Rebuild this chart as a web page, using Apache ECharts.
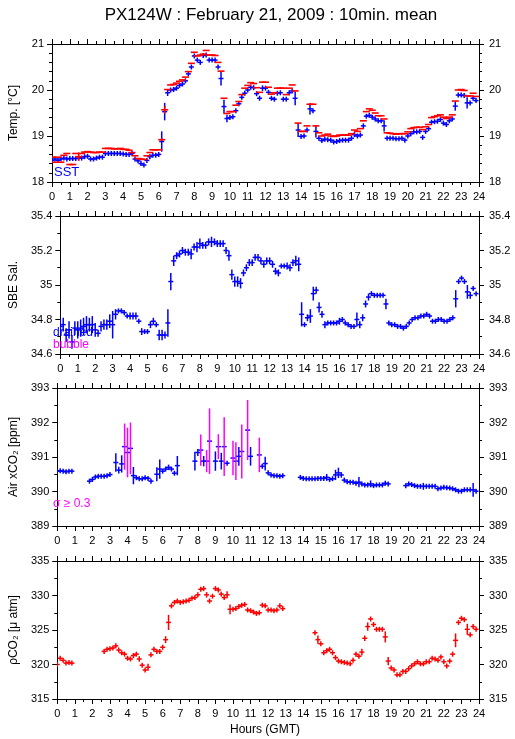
<!DOCTYPE html>
<html><head><meta charset="utf-8">
<script src="https://cdn.jsdelivr.net/npm/echarts@6/dist/echarts.min.js"></script>
<style>html,body{margin:0;padding:0;background:#fff}#c{width:515px;height:739px}</style>
</head><body><div id="c"></div>
<script>
// 10-minute slots, 0..143 (hours = slot/6)
const xTicks = [0,1,2,3,4,5,6,7,8,9,10,11,12,13,14,15,16,17,18,19,20,21,22,23,24];

const sstBlue = [18.47,18.50,18.47,18.50,18.52,18.50,18.51,18.51,18.51,18.52,
18.52,18.55,18.56,18.50,18.50,18.52,18.54,18.54,18.62,18.62,
18.62,18.62,18.62,18.62,18.61,18.60,18.60,18.62,18.50,18.46,
18.40,18.37,18.47,18.55,18.58,18.58,18.60,18.88,19.53,19.94,
20.00,20.01,20.04,20.10,20.13,20.20,20.35,20.50,20.74,20.65,
20.60,20.75,20.76,20.65,20.65,20.65,20.50,20.25,19.64,19.38,
19.40,19.42,19.55,19.70,19.84,19.93,20.00,20.06,20.05,19.92,
19.82,20.04,20.04,19.95,19.82,19.80,19.93,19.94,19.80,19.80,
19.94,19.98,19.82,19.13,18.99,19.00,19.13,19.59,19.55,19.10,
18.95,18.90,18.93,18.92,18.91,18.87,18.88,18.90,18.91,18.91,
18.91,18.95,19.03,19.00,19.02,19.22,19.43,19.45,19.41,19.37,
19.33,19.33,19.22,18.95,18.95,18.95,18.94,18.94,18.95,18.91,
19.00,19.05,19.09,19.09,19.10,18.97,19.10,19.16,19.30,19.31,
19.32,19.36,19.28,19.25,19.33,19.37,19.65,19.89,19.89,19.88,
19.72,19.72,19.82,19.77];
const sstErr = [0,0,0,0,0,0,0,0,0,0, 0,0,0,0,0,0,0,0,0,0, 0,0,0,0,0,0,0,0,0,0,
0,0,0,0,0,0,0,0.22,0.19,0.07, 0,0,0,0,0,0.05,0,0.05,0,0, 0,0,0,0,0,0,0,0.15,0.15,0.08,
0,0,0,0,0,0,0,0,0,0, 0,0.06,0,0,0,0,0,0,0,0, 0,0,0.15,0.15,0,0,0,0.12,0,0.13,
0,0,0,0,0,0,0,0,0,0, 0,0,0,0,0,0,0,0,0,0, 0,0,0.12,0,0,0,0,0,0,0,
0,0,0,0,0,0,0,0,0,0, 0,0,0,0,0,0,0.10,0,0,0, 0.12,0,0,0];

const tempRed = [18.54,18.43,18.54,18.43,18.58,18.62,18.38,18.38,18.62,18.55,
18.62,18.65,18.66,18.65,18.64,18.64,18.65,18.65,18.73,18.73,
18.73,18.72,18.72,18.73,18.71,18.71,18.69,18.64,18.57,18.51,
18.50,18.49,18.57,18.64,18.70,18.70,18.70,18.92,19.57,20.01,
20.11,20.12,20.15,20.19,20.22,20.28,20.40,20.58,20.82,20.74,
20.76,20.78,20.86,20.76,20.76,20.75,20.60,20.41,19.82,19.49,
19.53,19.53,19.67,19.75,19.90,20.04,20.10,20.16,20.14,20.05,
19.95,20.17,20.17,20.06,19.91,19.94,20.04,20.04,20.04,19.90,
20.04,20.11,19.98,19.28,19.10,19.10,19.22,19.69,19.69,19.22,
19.07,19.00,19.02,19.04,19.00,18.99,19.00,19.02,19.02,19.02,
19.02,19.05,19.13,19.10,19.16,19.33,19.53,19.59,19.56,19.50,
19.44,19.44,19.37,19.07,19.06,19.05,19.04,19.05,19.05,19.05,
19.09,19.16,19.18,19.19,19.19,19.14,19.20,19.25,19.40,19.42,
19.44,19.46,19.41,19.38,19.41,19.46,19.76,20.00,20.01,19.99,
19.87,19.87,19.93,19.86];
const tempErr = [0,0,0,0,0,0,0,0,0,0.09, 0,0,0,0,0,0,0,0,0,0, 0,0,0,0,0,0,0,0,0,0,
0,0,0,0,0,0,0,0.03,0.08,0, 0,0,0,0,0,0,0,0,0,0, 0,0,0,0,0,0,0,0,0,0,
0,0,0,0,0,0,0,0,0,0, 0,0,0,0,0,0,0,0,0,0, 0,0,0,0,0,0,0,0,0,0,
0,0,0,0,0,0,0,0,0,0, 0,0,0,0,0,0,0,0,0,0, 0,0,0,0,0,0,0,0,0,0,
0,0,0,0,0,0,0,0,0,0, 0,0,0,0,0,0,0,0,0,0, 0,0,0,0];

const salinity = [34.76,34.77,34.71,34.74,34.67,34.75,34.74,34.75,34.76,34.77,
34.77,34.77,34.74,34.72,34.76,34.77,34.77,34.79,34.77,34.83,
34.85,34.85,34.84,34.82,34.82,34.82,34.82,34.79,34.73,34.73,
34.73,34.77,34.79,34.77,34.71,34.71,34.71,34.78,35.02,35.14,
35.17,35.18,35.20,35.19,35.19,35.18,35.22,35.22,35.24,35.23,
35.23,35.25,35.25,35.25,35.24,35.24,35.24,35.20,35.17,35.06,
35.02,35.02,35.01,35.07,35.10,35.13,35.13,35.16,35.16,35.14,
35.12,35.14,35.14,35.12,35.08,35.07,35.11,35.11,35.11,35.10,
35.13,35.14,35.12,34.83,34.77,34.81,34.82,34.95,34.97,34.87,
34.83,34.77,34.78,34.78,34.78,34.78,34.79,34.80,34.78,34.77,
34.76,34.76,34.80,34.77,34.81,34.89,34.93,34.95,34.94,34.94,
34.94,34.94,34.89,34.78,34.77,34.77,34.76,34.76,34.75,34.76,
34.78,34.80,34.81,34.81,34.82,34.82,34.83,34.82,34.79,34.79,
34.80,34.80,34.79,34.79,34.80,34.81,34.92,35.02,35.04,35.02,
34.96,34.94,34.98,34.95];
const salErr = [.04,.04,.04,.05,.04,.04,.05,.05,.05,.05, .04,.05,.04,.02,.03,.03,.03,.04,.08,.03,
.01,0,0,.01,.02,.02,.02,0,.02,0, 0,.02,.02,0,.03,.03,.02,.08,.05,.03,
.02,.02,.02,.02,.02,.03,.02,.03,.03,.02, .02,.02,.03,.02,.02,.02,.02,.02,.03,.03,
.03,.03,.03,.02,.02,.02,.02,.02,.02,.02, .02,.02,.02,.02,.02,.02,.01,.01,.02,.02,
.02,.03,.04,.07,.01,.02,.04,.04,.02,.03, .02,.02,.01,0,.01,.01,.02,.01,.01,0,
0,.01,.04,.02,.02,.02,.02,.01,.01,0, .01,.01,.03,.01,.01,.01,0,0,.01,0,
.01,0,0,0,0,0,0,0,.01,.01, 0,.01,0,.01,0,0,.05,0,0,0, .04,.02,.01,.01];

const xco2 = [390.59,390.60,390.59,390.57,390.59,390.59,null,null,null,null,
null,390.30,390.35,390.42,390.44,390.44,390.44,390.46,390.49,null,
390.84,390.62,390.80,391.30,391.13,391.25,390.46,390.40,390.37,390.37,
390.40,390.38,390.30,null,390.50,390.65,390.59,390.65,390.70,390.65,
390.53,390.75,null,null,null,null,null,390.88,391.13,391.20,
390.88,390.88,391.46,null,390.88,391.30,390.88,391.30,390.82,null,
390.97,390.88,391.02,391.16,null,391.78,391.02,null,null,391.06,
390.73,390.81,390.54,390.48,390.46,390.46,390.44,390.46,null,null,
null,null,null,390.41,390.38,390.37,390.37,390.37,390.37,390.38,
390.38,390.38,390.41,390.35,390.37,390.48,390.54,390.48,390.33,390.28,
390.27,390.27,390.24,390.27,390.22,390.19,390.19,390.22,390.17,390.19,
390.19,390.19,390.24,390.22,null,null,null,null,null,390.17,
390.22,390.20,390.17,390.15,390.15,390.15,390.15,390.15,390.15,390.15,
390.08,390.10,390.12,390.11,390.10,390.08,390.05,390.01,390.01,390.05,
390.05,390.05,390.05,390.01];
const xco2Err = [.02,.02,.02,.03,.02,.02,0,0,0,0, 0,.05,.05,.03,.02,.02,.02,.02,.02,0,
.27,.1,.25,.67,.72,.75,.25,.05,.05,.05, .05,.05,.03,0,.2,.28,.05,.05,.08,.05,
.05,.28,0,0,0,0,0,.27,.1,.45, .15,.32,.95,0,.28,.36,.24,.85,.05,0,
.5,.55,.27,.78,0,.87,.27,0,0,.5, .05,.2,.05,.03,.03,.03,.03,.03,0,0,
0,0,0,.05,.03,.03,.03,.03,.03,.03, .03,.05,.1,.03,.03,.15,.15,.08,.03,.03,
.03,.03,.03,.15,.03,.03,.03,.1,.03,.03, .03,.03,.03,.03,0,0,0,0,0,.03,
.05,.03,.03,.03,.03,.1,.03,.03,.03,.03, .05,.03,.03,.03,.03,.03,.03,.03,.03,.03,
.03,.03,.2,.03];

const pco2 = [320.0,320.9,320.6,320.2,320.3,320.2,null,null,null,null,
null,null,null,null,null,null,321.9,322.2,322.3,322.4,
322.7,322.1,321.7,321.5,320.9,320.8,321.3,321.5,320.8,319.9,
319.2,319.6,321.4,322.2,321.9,321.9,322.5,323.6,326.1,328.5,
329.0,329.2,329.0,329.1,329.2,329.3,329.6,329.7,330.1,330.9,
331.0,330.1,329.2,329.9,331.0,330.8,330.2,329.7,330.1,328.0,
328.0,328.1,328.4,328.6,328.7,327.9,327.8,327.6,327.4,327.5,
328.6,328.5,327.9,327.9,327.8,327.9,328.5,328.1,null,null,
null,null,null,null,null,null,null,null,324.6,323.6,
323.0,321.7,322.0,322.2,321.7,321.0,320.5,320.4,320.3,320.2,
320.1,320.6,321.5,321.2,321.8,323.8,325.5,326.6,325.8,325.1,
325.1,325.1,324.0,320.5,319.5,319.2,318.5,318.5,319.0,319.0,
319.4,319.8,320.1,320.4,320.1,320.1,320.4,320.4,320.9,320.8,
320.6,321.1,320.4,319.8,320.5,321.5,323.5,326.1,326.7,326.5,
325.1,324.3,325.5,325.1];
const pco2Err = [.4,.3,.1,.1,.1,.1,0,0,0,0, 0,0,0,0,0,0,.1,.1,.1,.1,
.2,.1,.1,.1,.1,.1,.1,.1,.4,.1, .1,.5,.1,.1,.1,.1,.1,.5,1.1,.3,
.1,.1,.1,.1,.1,.1,.1,.1,.1,.3, .3,.4,.1,.1,.1,.1,.1,.1,.5,.7,
.1,.1,.1,.1,.1,.1,.1,.1,.3,.1, .1,.1,.1,.1,.3,.1,.1,.1,0,0,
0,0,0,0,0,0,0,0,.1,.6, .3,.1,.1,.1,.1,.1,.1,.1,.1,.1,
.1,.1,.1,.1,.5,.4,.6,.3,.1,.1, .1,.1,.8,.6,.1,.1,.1,.1,.1,.1,
.1,.1,.1,.1,.1,.1,.1,.1,.1,.1, .1,.1,.3,.1,.1,.1,1.0,.1,.1,.1,
.8,.1,.1,.1];

const FONT = 'Liberation Sans, Arial, Helvetica, sans-serif';
const BLUE = '#0000ff', RED = '#ff0000', MAG = '#ff00ff';

function build(vals, errs) {
  const out = [];
  vals.forEach((v, i) => { if (v !== null) out.push([i / 6, v, errs[i]]); });
  return out;
}

function crossSeries(g, data, opt) {
  return {
    type: 'custom', xAxisIndex: 2 * g, yAxisIndex: 2 * g, clip: true,
    data: data, encode: {x: 0, y: 1},
    renderItem: function (params, api) {
      const x = api.value(0), y = api.value(1), e = api.value(2);
      const c = api.coord([x, y]);
      const top = api.coord([x, y + e])[1], bot = api.coord([x, y - e])[1];
      const children = [{
        type: 'line', shape: {x1: c[0] - opt.hw, y1: c[1], x2: c[0] + opt.hw, y2: c[1]},
        style: {stroke: opt.color, lineWidth: opt.lw}
      }];
      const y1 = Math.min(top, c[1] - opt.minV), y2 = Math.max(bot, c[1] + opt.minV);
      if (y2 - y1 > 0.5) {
        children.push({
          type: 'line', shape: {x1: c[0], y1: y1, x2: c[0], y2: y2},
          style: {stroke: (opt.sigma && e >= opt.sigma) ? MAG : opt.color, lineWidth: opt.lw}
        });
      }
      return {type: 'group', children: children};
    }
  };
}

const tops = [44, 216, 388, 561];
const H = 138;
const panels = [
  {min: 18, max: 21, interval: 1, minor: 5, name: 'Temp. [°C]'},
  {min: 34.6, max: 35.4, interval: 0.2, minor: 2, name: 'SBE Sal.'},
  {min: 389, max: 393, interval: 1, minor: 2, name: 'Air xCO\u2082 [ppm]'},
  {min: 315, max: 335, interval: 5, minor: 2, name: '\u03C1CO\u2082 [\u03BC atm]'}
];

const axLine = {show: true, onZero: false, lineStyle: {color: '#000', width: 1}};
const tick = {show: true, length: 5, lineStyle: {color: '#000', width: 1}};
const grid = [], xAxis = [], yAxis = [];
panels.forEach((p, g) => {
  grid.push({left: 51, width: 428, top: tops[g], height: H});
  const xBase = {type: 'value', gridIndex: g, min: 0, max: 24, interval: 1,
    axisLine: axLine, axisTick: tick, splitLine: {show: false},
    minorTick: {show: true, splitNumber: 2, length: 3, lineStyle: {color: '#000', width: 1}}};
  xAxis.push(Object.assign({}, xBase, {position: 'bottom',
    axisLabel: {fontSize: 11, color: '#000', margin: 9, fontFamily: FONT, showMinLabel: true, showMaxLabel: true,
      formatter: v => String(xTicks[Math.round(v)])}}));
  xAxis.push(Object.assign({}, xBase, {position: 'top', axisLabel: {show: false}}));
  const yBase = {type: 'value', gridIndex: g, min: p.min, max: p.max, interval: p.interval,
    axisLine: axLine, axisTick: tick, splitLine: {show: false},
    minorTick: {show: true, splitNumber: p.minor, length: 3, lineStyle: {color: '#000', width: 1}}};
  yAxis.push(Object.assign({}, yBase, {position: 'left',
    axisLabel: {fontSize: 11, color: '#000', margin: 8, fontFamily: FONT, showMinLabel: true, showMaxLabel: true},
    name: p.name, nameLocation: 'middle', nameGap: 32, nameRotate: 90,
    nameTextStyle: {fontSize: 12, color: '#000', fontFamily: FONT}}));
  yAxis.push(Object.assign({}, yBase, {position: 'right',
    axisLabel: {fontSize: 11, color: '#000', margin: 10, fontFamily: FONT, showMinLabel: true, showMaxLabel: true}}));
});

const series = [
  crossSeries(0, build(sstBlue, sstErr), {color: BLUE, hw: 2.5, minV: 2.5, lw: 1.5}),
  crossSeries(0, build(tempRed, tempErr), {color: RED, hw: 3.5, minV: 0, lw: 1.6}),
  crossSeries(1, build(salinity, salErr), {color: BLUE, hw: 2.5, minV: 2.5, lw: 1.5}),
  crossSeries(2, build(xco2, xco2Err), {color: BLUE, hw: 2.5, minV: 2.5, lw: 1.5, sigma: 0.3}),
  crossSeries(3, build(pco2, pco2Err), {color: RED, hw: 2.5, minV: 2.5, lw: 1.5})
];

const chart = echarts.init(document.getElementById('c'), null, {renderer: 'canvas'});
chart.setOption({
  backgroundColor: '#fff',
  animation: false,
  textStyle: {fontFamily: FONT},
  title: {text: 'PX124W : February 21, 2009 : 10min. mean', left: 266, textAlign: 'center', top: 2,
    textStyle: {fontSize: 17, fontWeight: 'normal', color: '#000', fontFamily: FONT}},
  grid: grid, xAxis: xAxis, yAxis: yAxis, series: series,
  graphic: [
    {type: 'text', left: 54, top: 166, z: 1, style: {text: 'SST', fill: BLUE, font: '13px ' + FONT}},
    {type: 'text', left: 53, top: 327, z: 1, style: {text: 'drained', fill: BLUE, font: '12px ' + FONT}},
    {type: 'text', left: 53, top: 339, z: 100, style: {text: 'bubble', fill: MAG, font: '12px ' + FONT}},
    {type: 'text', left: 53, top: 498, z: 100, style: {text: '\u03C3 \u2265 0.3', fill: MAG, font: '12px ' + FONT}},
    {type: 'text', x: 265, y: 730, style: {text: 'Hours (GMT)', fill: '#000', font: '12px ' + FONT, textAlign: 'center', textVerticalAlign: 'middle'}}
  ]
});
</script></body></html>
